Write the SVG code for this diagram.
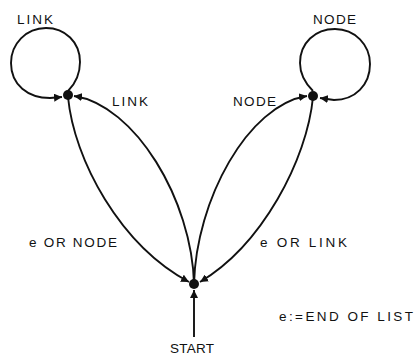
<svg xmlns="http://www.w3.org/2000/svg" width="415" height="355" viewBox="0 0 415 355">
<style>
.edge{fill:none;stroke:#111;stroke-width:1.9;marker-end:url(#arr)}
.dot{fill:#111}
text{font-family:"Liberation Sans",Arial,sans-serif;font-size:13.5px;fill:#111}
</style>
<defs>
<marker id="arr" markerUnits="userSpaceOnUse" markerWidth="9" markerHeight="8" refX="8" refY="4" orient="auto">
<path d="M0,0 L8,4 L0,8 z" fill="#111"/>
</marker>
</defs>
<rect width="415" height="355" fill="#fff"/>
<g id="connectors">
<path id="loop-link" class="edge" d="M68,91 C76,83 80,73 80,62 C80,42 65,28 46,28 C26,28 11,44 11,63 C11,85 28,98 50,98 L62,97"/>
<path id="loop-node" class="edge" d="M313,91 C305,83 300,73 300,63 C300,43 315,29 335,29 C355,29 370,45 370,64 C370,85 355,100 334,100 L320,98"/>
<path id="e-or-node" class="edge" d="M68,97 C74,160 120,245 189,282"/>
<path id="link" class="edge" d="M194,284 C192,200 135,105 74,96"/>
<path id="node" class="edge" d="M194,284 C196,200 248,105 307,96"/>
<path id="e-or-link" class="edge" d="M313,97 C307,160 262,245 200,282"/>
<path id="start" class="edge" d="M194,337 L194,290"/>
</g>
<g id="n-link"><circle class="dot" cx="68" cy="95" r="5"/></g>
<g id="n-node"><circle class="dot" cx="313" cy="96" r="5"/></g>
<g id="n-start"><circle class="dot" cx="194" cy="284" r="5"/></g>
<g id="labels">
<text x="17" y="24" textLength="36" lengthAdjust="spacing">LINK</text>
<text x="112" y="106" textLength="36" lengthAdjust="spacing">LINK</text>
<text x="313" y="24" textLength="43" lengthAdjust="spacing">NODE</text>
<text x="233" y="106" textLength="43" lengthAdjust="spacing">NODE</text>
<text x="29" y="247" textLength="88" lengthAdjust="spacing">e OR NODE</text>
<text x="260" y="247" textLength="87" lengthAdjust="spacing">e OR LINK</text>
<text x="279" y="321" textLength="134" lengthAdjust="spacing">e:=END OF LIST</text>
<text x="170" y="353" textLength="44" lengthAdjust="spacing">START</text>
</g>
</svg>
